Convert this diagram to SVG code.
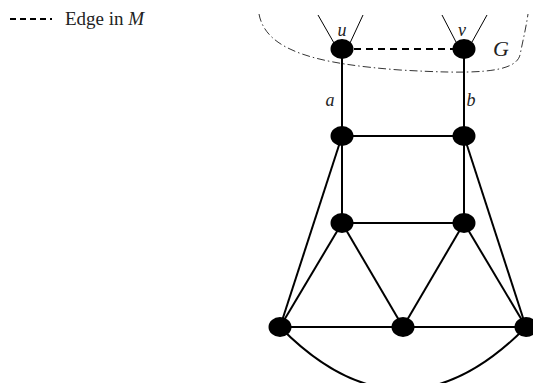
<svg xmlns="http://www.w3.org/2000/svg" width="533" height="383" viewBox="0 0 533 383">
<style>
.e{stroke:#000;stroke-width:2;fill:none}
.f{stroke:#000;stroke-width:1;fill:none}
.n{fill:#000}
.t{font-family:"Liberation Serif",serif;fill:#222}
.i{font-style:italic}
</style>
<rect width="533" height="383" fill="#fff"/>
<g id="legend">
<line x1="10" y1="19" x2="52" y2="19" stroke="#000" stroke-width="2" stroke-dasharray="6,4"/>
<text class="t" x="65" y="25" font-size="19">Edge in <tspan class="i">M</tspan></text>
</g>
<g id="G">
<path d="M259,14 C266,52 320,64 400,70 C470,74 515,74 520,55 C523,40 526,28 528,14" fill="none" stroke="#000" stroke-width="0.8" stroke-dasharray="8,3,1.5,3"/>
<text class="t i" x="493" y="56" font-size="22">G</text>
</g>
<g id="connectors">
<line class="f" x1="318" y1="15" x2="334" y2="43"/>
<line class="f" x1="363" y1="15" x2="350" y2="43"/>
<line class="f" x1="442" y1="15" x2="456" y2="42"/>
<line class="f" x1="487" y1="15" x2="472" y2="42"/>
<line x1="342" y1="49" x2="464" y2="49" stroke="#000" stroke-width="2" stroke-dasharray="7,5"/>
<line class="e" x1="342" y1="49" x2="342" y2="136"/>
<line class="e" x1="464" y1="49" x2="464" y2="136"/>
<line class="e" x1="342" y1="136" x2="464" y2="136"/>
<line class="e" x1="342" y1="136" x2="342" y2="223"/>
<line class="e" x1="464" y1="136" x2="464" y2="223"/>
<line class="e" x1="342" y1="223" x2="464" y2="223"/>
<line class="e" x1="342" y1="136" x2="280" y2="327"/>
<line class="e" x1="464" y1="136" x2="526" y2="327"/>
<line class="e" x1="342" y1="223" x2="280" y2="327"/>
<line class="e" x1="342" y1="223" x2="403" y2="327"/>
<line class="e" x1="464" y1="223" x2="403" y2="327"/>
<line class="e" x1="464" y1="223" x2="526" y2="327"/>
<line class="e" x1="280" y1="327" x2="526" y2="327"/>
<path class="e" d="M280,327 Q403,452 526,327"/>
</g>
<g id="u"><ellipse class="n" cx="342" cy="49" rx="11.5" ry="10"/><text class="t i" x="342" y="36" font-size="18" text-anchor="middle">u</text></g>
<g id="v"><ellipse class="n" cx="464" cy="49" rx="11.5" ry="10"/><text class="t i" x="462" y="36" font-size="18" text-anchor="middle">v</text></g>
<g id="na"><ellipse class="n" cx="342" cy="136" rx="11.5" ry="10"/><text class="t i" x="330" y="106" font-size="18" text-anchor="middle">a</text></g>
<g id="nb"><ellipse class="n" cx="464" cy="136" rx="11.5" ry="10"/><text class="t i" x="471" y="106" font-size="18" text-anchor="middle">b</text></g>
<g id="ml"><ellipse class="n" cx="342" cy="223" rx="11.5" ry="10"/></g>
<g id="mr"><ellipse class="n" cx="464" cy="223" rx="11.5" ry="10"/></g>
<g id="bl"><ellipse class="n" cx="280" cy="327" rx="11.5" ry="10"/></g>
<g id="bm"><ellipse class="n" cx="403" cy="327" rx="11.5" ry="10"/></g>
<g id="br"><ellipse class="n" cx="526" cy="327" rx="11.5" ry="10"/></g>
</svg>
